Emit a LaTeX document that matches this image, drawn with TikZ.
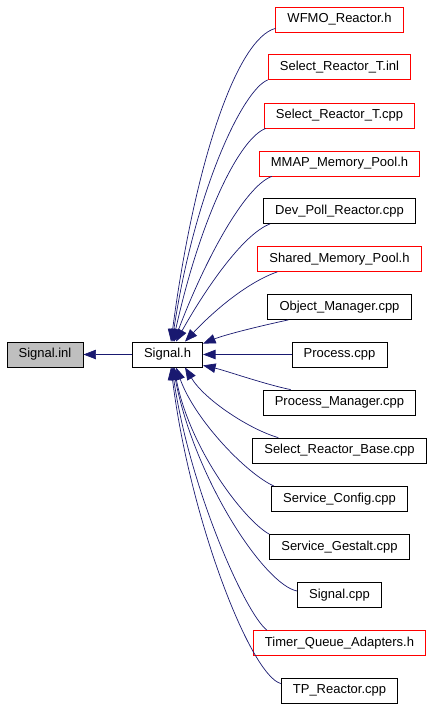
\documentclass[tikz,border=0pt]{standalone}
\usepackage{fontspec}
\setmainfont{Liberation Sans}
\usetikzlibrary{arrows.meta}
\definecolor{edgeblue}{HTML}{191970}
\definecolor{cellgray}{HTML}{BFBFBF}
\tikzset{
  box/.style={draw=black, line width=0.8pt, minimum height=25pt, inner xsep=11.7pt, inner ysep=0pt,
    font=\fontsize{13}{15}\selectfont, anchor=center},
  redbox/.style={box, draw=red},
  edge/.style={draw=edgeblue, line width=0.7pt, -{Triangle[length=12.5pt,width=9.5pt]}}
}
\begin{document}
\begin{tikzpicture}[x=1pt,y=-1pt]
\useasboundingbox (0,0) rectangle (432,707);
\node[box, fill=cellgray] (sinl) at (45,354.5) {Signal.inl};
\node[box] (sigh) at (167.5,354.5) {Signal.h};
\node[redbox] (r1) at (339.5,19.5) {WFMO\_Reactor.h};
\node[redbox] (r2) at (339.5,67) {Select\_Reactor\_T.inl};
\node[redbox] (r3) at (339.5,115.5) {Select\_Reactor\_T.cpp};
\node[redbox] (r4) at (339.5,163.5) {MMAP\_Memory\_Pool.h};
\node[box] (r5) at (339.5,211) {Dev\_Poll\_Reactor.cpp};
\node[redbox] (r6) at (339.5,259) {Shared\_Memory\_Pool.h};
\node[box] (r7) at (339.5,307) {Object\_Manager.cpp};
\node[box] (r8) at (339.5,354.5) {Process.cpp};
\node[box] (r9) at (339.5,402.5) {Process\_Manager.cpp};
\node[box] (r10) at (339.5,450.5) {Select\_Reactor\_Base.cpp};
\node[box] (r11) at (339.5,499) {Service\_Config.cpp};
\node[box] (r12) at (339.5,547) {Service\_Gestalt.cpp};
\node[box] (r13) at (339.5,595) {Signal.cpp};
\node[redbox] (r14) at (339.5,643) {Timer\_Queue\_Adapters.h};
\node[box] (r15) at (339.5,690.5) {TP\_Reactor.cpp};

\draw[edge] (sigh.west) -- (sinl.east);

\draw[edge] ([yshift=4pt]r1.south west) .. controls +(-38,10) and +(24,-182) .. ([xshift=3.5pt]sigh.north);
\draw[edge] (r2.south west) .. controls +(-25,10) and +(23,-152) .. ([xshift=4.5pt]sigh.north);
\draw[edge] ([xshift=2pt]r3.south west) .. controls +(-27,10) and +(27,-122) .. ([xshift=5.5pt]sigh.north);
\draw[edge] ([xshift=13pt]r4.south west) .. controls +(-27,10) and +(31,-82) .. ([xshift=6.5pt]sigh.north);
\draw[edge] ([xshift=7pt]r5.south west) .. controls +(-27,10) and +(29,-52) .. ([xshift=8.5pt]sigh.north);
\draw[edge] ([xshift=20pt]r6.south west) .. controls +(-29,10) and +(30,-32) .. ([xshift=17.5pt]sigh.north);
\draw[edge] ([xshift=21pt]r7.south west) .. controls +(-28,6) and +(22,-9) .. ([yshift=-2pt]sigh.north east);
\draw[edge] (r8.west) -- (sigh.east);
\draw[edge] ([xshift=28pt]r9.north west) .. controls +(-25,-5) and +(22,5) .. ([yshift=2pt]sigh.south east);
\draw[edge] ([xshift=26pt]r10.north west) .. controls +(-28,-8) and +(20,33) .. ([xshift=17.5pt]sigh.south);
\draw[edge] ([xshift=3pt]r11.north west) .. controls +(-27,-12) and +(19,53) .. ([xshift=8.5pt]sigh.south);
\draw[edge] (r12.north west) .. controls +(-24,-13) and +(16,83) .. ([xshift=6.5pt]sigh.south);
\draw[edge] ([yshift=4pt]r13.west) .. controls +(-32,-6) and +(22,113) .. ([xshift=5.5pt]sigh.south);
\draw[edge] ([xshift=14pt]r14.north west) .. controls +(-21,-16) and +(18,123) .. ([xshift=4.5pt]sigh.south);
\draw[edge] ([yshift=7pt]r15.west) .. controls +(-30,-8) and +(19,153) .. ([xshift=3.5pt]sigh.south);
\end{tikzpicture}
\end{document}
